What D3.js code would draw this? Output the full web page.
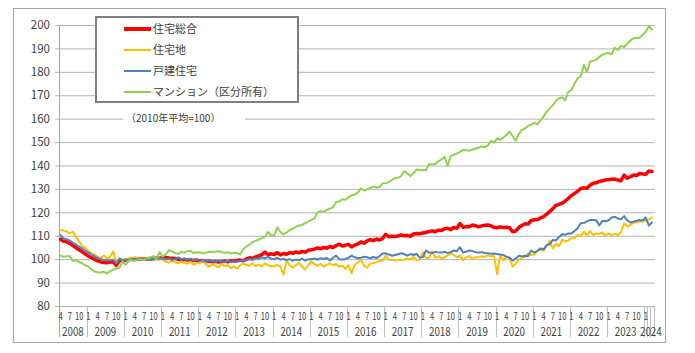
<!DOCTYPE html>
<html>
<head>
<meta charset="utf-8">
<script src="https://cdn.jsdelivr.net/npm/d3@7"></script>
<style>
  body { margin: 0; background: #fff; }
  svg text { font-family: "Liberation Sans Narrow", "Noto Sans CJK JP", sans-serif; fill: #404040; }
  .jp { font-family: "Noto Sans CJK JP", sans-serif; }
</style>
</head>
<body>
<div id="chart"></div>
<script>
// monthly index, 2010 average = 100, from 2008/4 to 2024/3
var startYear = 2008, startMonth = 4, endYear = 2024, endMonth = 3;

var seriesNames = ["住宅総合", "住宅地", "戸建住宅", "マンション（区分所有）"];
var seriesColors = ["#ff0000", "#ffc000", "#4f81bd", "#92d050"];
var seriesWidths = [3.5, 2, 2, 2];

var sogo = [
  108.5, 107.6, 107.4, 106.7, 105.8, 104.9, 104.0, 103.1, 102.2,
  101.3, 100.6, 99.9, 99.3, 98.8, 98.6, 98.5, 98.8, 98.9, 97.3, 99.4, 99.2,
  99.6, 99.8, 100.0, 99.9, 100.1, 100.0, 100.2, 100.1, 100.3, 100.2, 100.5, 100.4,
  100.6, 100.7, 100.5, 100.4, 100.3, 100.0, 99.8, 99.9, 99.6, 99.8, 99.4, 99.6,
  99.3, 99.4, 99.0, 99.2, 98.9, 99.1, 98.8, 99.0, 99.2, 98.9, 99.3, 99.1,
  99.4, 99.6, 99.3, 100.1, 100.6, 100.3, 101.0, 101.4, 101.9, 103.0, 101.9, 102.3,
  102.0, 102.8, 101.8, 102.4, 102.1, 102.8, 102.5, 103.1, 102.7, 103.3, 103.0, 103.8,
  104.0, 104.3, 104.8, 104.4, 105.0, 104.7, 105.4, 105.0, 105.8, 106.4, 105.6, 106.0,
  106.3, 105.2, 106.0, 106.5, 107.4, 106.8, 107.8, 108.3, 107.9, 108.6, 108.2, 108.8,
  110.6, 109.6, 109.8, 109.7, 109.9, 110.3, 110.0, 110.2, 109.7, 110.8, 111.0, 110.9,
  111.2, 111.4, 111.8, 112.1, 111.7, 112.4, 112.2, 113.0, 113.2, 112.6, 113.5, 113.2,
  115.2, 113.6, 113.9, 113.8, 114.6, 114.3, 113.8, 114.2, 114.5, 114.6, 114.2, 113.6,
  113.4, 113.8, 113.5, 113.6, 113.4, 111.7, 112.0, 113.5, 114.4, 115.1, 115.0, 116.5,
  116.8, 116.9, 117.6, 118.2, 119.2, 120.3, 121.6, 123.0, 123.4, 123.9, 124.8, 126.0,
  127.1, 128.1, 129.0, 130.2, 130.5, 130.3, 131.6, 132.4, 132.6, 133.2, 133.5, 133.8,
  134.0, 134.1, 134.2, 133.8, 133.5, 135.9, 134.6, 135.2, 135.9, 135.7, 136.6, 136.4,
  136.3, 137.6, 137.4
];

var jutakuchi = [
  112.4, 112.2, 111.8, 111.0, 111.7, 109.5, 107.5, 105.5, 104.8,
  103.5, 102.5, 101.8, 101.0, 100.4, 101.6, 100.2, 101.0, 103.4, 98.3, 100.5, 99.6,
  99.8, 100.4, 100.0, 100.9, 100.2, 99.7, 100.4, 100.0, 100.6, 100.2, 99.8, 100.3,
  99.6, 99.0, 98.5, 99.2, 98.6, 98.2, 99.0, 98.4, 98.0, 98.8, 97.6, 98.4,
  98.2, 99.6, 97.6, 96.8, 97.8, 97.2, 96.5, 98.0, 97.0, 97.5, 96.2, 97.0,
  95.9, 97.5, 98.0, 97.6, 97.2, 98.3, 97.0, 97.7, 96.8, 98.2, 97.4, 96.9,
  97.1, 97.6, 96.8, 93.4, 99.8, 97.2, 96.4, 97.5, 98.3, 97.0, 95.6, 97.4,
  99.0, 97.8, 97.2, 98.0, 96.8, 97.6, 98.2, 97.4, 97.8, 96.9, 97.2, 95.8,
  97.5, 94.0, 97.6, 98.6, 99.6, 97.2, 96.4, 98.0, 98.4, 98.6, 99.2, 99.4,
  101.5, 99.8, 99.6, 99.4, 99.8, 99.6, 99.8, 100.2, 100.0, 101.0, 99.6, 99.8,
  103.0, 100.4, 100.6, 103.4, 100.6, 101.2, 100.4, 100.8, 101.6, 102.4, 101.8, 100.8,
  101.6, 99.6, 100.8, 101.4, 100.2, 100.8, 100.9, 101.2, 101.0, 101.6, 101.2, 101.4,
  93.5, 101.8, 99.4, 101.0, 100.6, 96.8, 98.0, 99.8, 100.6, 101.0, 102.4, 101.8,
  102.0, 103.5, 104.1, 103.6, 105.5, 107.9, 104.6, 106.5, 105.6, 108.3, 107.6, 108.0,
  108.9, 109.0, 110.3, 110.0, 111.7, 110.2, 112.0, 110.4, 111.0, 110.8, 111.4, 110.0,
  111.0, 110.3, 110.8, 110.3, 111.5, 115.3, 114.0, 114.6, 115.5, 115.8, 116.2, 116.0,
  116.5, 117.0, 117.8
];

var kodate = [
  110.3, 108.8, 108.5, 107.9, 107.0, 106.2, 105.4, 104.5, 103.6,
  102.8, 102.0, 101.2, 100.4, 100.0, 99.6, 99.5, 99.4, 99.8, 98.3, 100.2, 99.6,
  99.8, 99.7, 100.0, 100.2, 99.9, 100.1, 100.0, 100.3, 99.9, 100.2, 100.1, 100.0,
  100.4, 99.9, 100.2, 99.6, 100.0, 100.8, 99.9, 100.3, 99.7, 100.2, 99.5, 99.8,
  99.3, 99.6, 98.9, 99.5, 99.2, 99.0, 99.4, 99.1, 98.9, 99.3, 98.7, 99.0,
  98.9, 99.2, 99.6, 99.4, 100.0, 99.7, 100.4, 100.2, 100.8, 100.4, 101.0, 100.2,
  100.0, 100.6, 99.8, 100.2, 99.6, 100.0, 99.3, 99.8, 99.5, 100.2, 99.4, 100.0,
  100.0, 100.3, 99.8, 100.4, 100.1, 100.5, 99.4, 100.6, 101.5, 100.0, 99.9, 100.1,
  100.6, 101.5, 100.8, 100.4, 100.6, 101.0, 100.8, 100.4, 100.9, 100.5, 101.2, 102.4,
  102.5, 102.0, 101.5, 101.8, 102.1, 102.5, 102.2, 101.5, 102.2, 101.8, 102.3, 100.7,
  100.8, 103.7, 102.8, 102.6, 103.1, 102.9, 102.8, 103.2, 102.6, 103.0, 103.7, 103.4,
  105.1, 102.8, 103.2, 103.7, 103.5, 103.0, 102.8, 103.0, 102.6, 102.5, 102.3, 102.4,
  102.2, 102.0, 101.8, 101.1, 100.6, 99.4, 100.3, 101.5, 101.2, 101.5, 101.4, 103.7,
  102.8, 103.6, 104.6, 104.2, 106.0, 106.4, 108.2, 108.0, 109.5, 110.6, 110.4, 111.0,
  111.0, 112.0, 113.2, 115.3, 115.4, 116.2, 116.7, 116.7, 116.6, 114.4, 116.4, 116.2,
  116.6, 117.8, 118.1, 117.4, 117.0, 118.4, 116.6, 115.7, 116.0, 116.4, 116.7, 116.5,
  117.8, 114.3, 115.7
];

var mansion = [
  101.5, 101.0, 101.2, 101.3, 99.2, 99.6, 98.8, 98.2, 97.4,
  96.8, 95.6, 94.7, 94.4, 94.3, 94.6, 94.0, 94.8, 95.5, 96.0, 96.2, 99.0,
  97.6, 99.4, 99.6, 99.3, 99.8, 100.0, 99.6, 100.4, 100.8, 101.3, 100.0, 103.0,
  101.2, 102.0, 103.9, 103.2, 102.6, 102.2, 103.2, 102.8, 103.4, 103.6, 102.6, 102.8,
  103.0, 102.4, 102.8, 103.2, 103.0, 103.3, 103.4, 103.0, 102.6, 103.0, 102.4, 102.8,
  102.6, 102.0, 104.2, 105.4, 106.2, 107.3, 107.8, 108.4, 109.0, 109.6, 111.6, 110.0,
  110.2, 113.6, 111.6, 110.6, 111.4, 112.4, 113.0, 113.8, 114.4, 114.6, 115.4, 116.0,
  116.8, 117.4, 120.0, 120.5, 120.3, 121.0, 121.6, 122.2, 124.4, 124.6, 125.6, 125.4,
  126.4, 127.2, 127.6, 128.4, 130.3, 129.3, 129.8, 130.4, 131.0, 130.6, 130.8, 132.4,
  132.4, 133.0, 133.8, 134.6, 134.8, 135.5, 137.6, 136.6, 135.5, 136.8, 138.3, 138.0,
  138.2, 138.0, 140.6, 140.4, 140.6, 141.8, 142.6, 143.8, 139.9, 144.0, 144.6, 145.2,
  145.8, 146.6, 146.5, 146.3, 146.8, 147.3, 147.6, 148.2, 147.8, 148.5, 150.5, 149.8,
  151.6, 150.9, 152.0, 153.0, 154.5, 152.6, 150.6, 153.4, 155.2, 155.8, 156.9, 157.4,
  158.3, 157.5, 159.4, 160.9, 163.0, 164.4, 165.8, 167.6, 168.7, 169.0, 167.9, 171.5,
  172.3, 175.0, 177.2, 178.1, 182.9, 180.0, 184.3, 184.8, 185.2, 186.4, 187.2, 187.9,
  187.9, 187.6, 190.3, 189.4, 191.1, 190.6, 192.0, 193.4, 194.3, 194.4, 194.5, 195.8,
  197.1, 199.5, 198.1
];

var yTicks = [80, 90, 100, 110, 120, 130, 140, 150, 160, 170, 180, 190, 200];
var monthLabels = [1, 4, 7, 10];
var years = d3.range(startYear, endYear + 1);

var W = 695, H = 353;
var margin = { left: 59, right: 655, top: 25, bottom: 306 };

// list of months
var months = [];
for (var y = startYear; y <= endYear; y++) {
    for (var m = 1; m <= 12; m++) {
        if (y == startYear && m < startMonth) continue;
        if (y == endYear && m > endMonth) continue;
        months.push({ year: y, month: m });
    }
}
var n = months.length;

var x = d3.scaleLinear().domain([0, n]).range([margin.left, 653.5]);
var yScale = d3.scaleLinear().domain([80, 200]).range([margin.bottom, margin.top]);

var svg = d3.select("#chart").append("svg")
    .attr("width", W)
    .attr("height", H);

// outer frame
svg.append("rect")
    .attr("x", 13.5).attr("y", 8.5)
    .attr("width", 652).attr("height", 334)
    .attr("fill", "#fff")
    .attr("stroke", "#a6a6a6");

// gridlines + y axis
var yAxis = d3.axisLeft(yScale)
    .tickValues(yTicks)
    .tickSize(-(margin.right - margin.left))
    .tickPadding(9)
    .tickFormat(d3.format("d"));

var gy = svg.append("g")
    .attr("transform", "translate(" + margin.left + ",0)")
    .call(yAxis);
gy.select(".domain").remove();
gy.selectAll(".tick line")
    .attr("stroke", "#b3b3b3")
    .attr("x1", -4);
gy.selectAll(".tick text")
    .attr("font-size", 11.5)
    .style("fill", "#404040");

// y axis line
svg.append("line")
    .attr("x1", margin.left + 0.5).attr("x2", margin.left + 0.5)
    .attr("y1", margin.top).attr("y2", 337)
    .attr("stroke", "#a6a6a6");

// category axis: year separators
var yearStart = {};
var yearEnd = {};
months.forEach(function (d, i) {
    if (yearStart[d.year] === undefined) yearStart[d.year] = i;
    yearEnd[d.year] = i + 1;
});

var seps = years.map(function (yr) { return yearEnd[yr]; });
// the last year is split month by month
for (var i = yearStart[endYear] + 1; i < n; i++) seps.push(i);

svg.selectAll("line.sep")
    .data(seps)
    .enter().append("line")
    .attr("class", "sep")
    .attr("x1", function (d) { return Math.round(x(d)) + 0.5; })
    .attr("x2", function (d) { return Math.round(x(d)) + 0.5; })
    .attr("y1", margin.bottom)
    .attr("y2", 337)
    .attr("stroke", "#bfbfbf");

// month labels (squeezed horizontally like the original)
var labelled = months.map(function (d, i) { return { d: d, i: i }; })
    .filter(function (o) { return monthLabels.indexOf(o.d.month) >= 0; });

svg.selectAll("text.mon")
    .data(labelled)
    .enter().append("text")
    .attr("class", "mon")
    .attr("transform", function (o) {
        return "translate(" + x(o.i + 0.5) + ",320) scale(0.72,1)";
    })
    .attr("text-anchor", "middle")
    .attr("font-size", 10.5)
    .text(function (o) { return o.d.month; });

// year labels
svg.selectAll("text.yr")
    .data(years)
    .enter().append("text")
    .attr("class", "yr")
    .attr("transform", function (yr) {
        var c = (x(yearStart[yr]) + x(yearEnd[yr])) / 2;
        if (yr == endYear) c += 2;
        return "translate(" + c + ",336) scale(0.85,1)";
    })
    .attr("text-anchor", "middle")
    .attr("font-size", 11.5)
    .text(function (yr) { return yr; });

// series lines
var line = d3.line()
    .x(function (d, i) { return x(i + 0.5); })
    .y(function (d) { return yScale(d); });

var allSeries = [sogo, jutakuchi, kodate, mansion];

svg.selectAll("path.series")
    .data(allSeries)
    .enter().append("path")
    .attr("class", "series")
    .attr("d", line)
    .attr("fill", "none")
    .attr("stroke", function (d, i) { return seriesColors[i]; })
    .attr("stroke-width", function (d, i) { return seriesWidths[i]; })
    .attr("stroke-linejoin", "round")
    .attr("stroke-linecap", "round");

// legend
var legend = svg.append("g");
legend.append("rect")
    .attr("x", 96).attr("y", 17)
    .attr("width", 202).attr("height", 85)
    .attr("fill", "#fff")
    .attr("stroke", "#7f7f7f")
    .attr("stroke-width", 2);

var legItems = legend.selectAll("g.item")
    .data(seriesNames)
    .enter().append("g")
    .attr("class", "item")
    .attr("transform", function (d, i) { return "translate(0," + (29 + i * 21) + ")"; });

legItems.append("line")
    .attr("x1", 124).attr("x2", 151)
    .attr("y1", 0).attr("y2", 0)
    .attr("stroke", function (d, i) { return seriesColors[i]; })
    .attr("stroke-width", function (d, i) { return i == 0 ? 4 : 2; });

legItems.append("text")
    .attr("class", "jp")
    .attr("x", 153)
    .attr("y", 4)
    .attr("font-size", 11)
    .text(function (d) { return d; });

// base note
svg.append("rect")
    .attr("x", 123).attr("y", 110)
    .attr("width", 122).attr("height", 16)
    .attr("fill", "#fff");
svg.append("text")
    .attr("class", "jp")
    .attr("x", 126)
    .attr("y", 122)
    .attr("font-size", 10)
    .text("（2010年平均=100）");
</script>
</body>
</html>
